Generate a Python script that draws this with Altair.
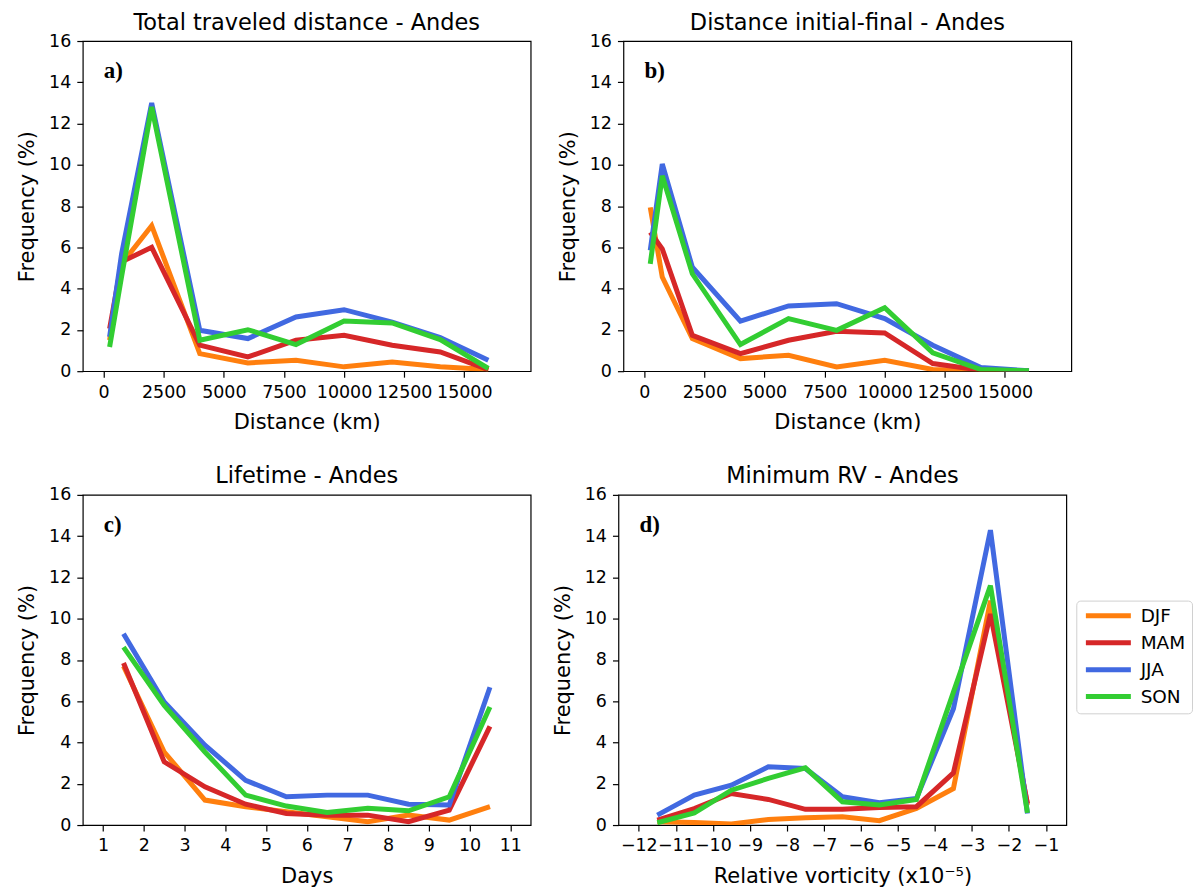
import altair as alt
import pandas as pd

seasons = ["DJF", "MAM", "JJA", "SON"]
colors = ["#ff7f0e", "#d62728", "#4169e1", "#32cd32"]

# Panel a: total traveled distance
dist_x = [250, 750, 2000, 4000, 6000, 8000, 10000, 12000, 14000, 16000]
a_DJF = [1.5, 5.2, 7.05, 0.85, 0.40, 0.53, 0.21, 0.45, 0.21, 0.08]
a_MAM = [2.06, 5.3, 6.0, 1.26, 0.69, 1.5, 1.74, 1.26, 0.93, 0.08]
a_JJA = [1.66, 5.7, 13.0, 1.98, 1.58, 2.63, 2.98, 2.38, 1.63, 0.53]
a_SON = [1.17, 4.6, 12.8, 1.5, 2.01, 1.29, 2.43, 2.34, 1.53, 0.13]

# Panel b: distance initial-final
b_DJF = [7.94, 4.56, 1.58, 0.61, 0.77, 0.21, 0.53, 0.08, 0.03, 0.02]
b_MAM = [6.73, 5.93, 1.74, 0.85, 1.5, 1.93, 1.85, 0.37, 0.05, 0.02]
b_JJA = [5.85, 10.04, 5.04, 2.43, 3.16, 3.27, 2.55, 1.26, 0.18, 0.02]
b_SON = [5.2, 9.47, 4.72, 1.29, 2.55, 1.98, 3.08, 0.89, 0.08, 0.02]

# Panel c: lifetime
days_x = [1.5, 2.5, 3.5, 4.5, 5.5, 6.5, 7.5, 8.5, 9.5, 10.5]
c_DJF = [7.7, 3.54, 1.21, 0.89, 0.64, 0.40, 0.16, 0.48, 0.24, 0.89]
c_MAM = [7.85, 3.06, 1.85, 1.01, 0.56, 0.48, 0.48, 0.16, 0.72, 4.78]
c_JJA = [9.27, 5.96, 3.87, 2.17, 1.37, 1.45, 1.45, 1.01, 0.97, 6.68]
c_SON = [8.62, 5.8, 3.54, 1.45, 0.92, 0.61, 0.81, 0.69, 1.37, 5.72]

# Panel d: minimum relative vorticity
rv_x = [-11.5, -10.5, -9.5, -8.5, -7.5, -6.5, -5.5, -4.5, -3.5, -2.5, -1.5]
d_DJF = [0.16, 0.12, 0.05, 0.27, 0.35, 0.40, 0.21, 0.81, 1.77, 10.87, 0.97]
d_MAM = [0.24, 0.8, 1.53, 1.24, 0.76, 0.76, 0.85, 0.89, 2.53, 10.23, 1.05]
d_JJA = [0.48, 1.45, 1.93, 2.82, 2.74, 1.37, 1.08, 1.29, 5.64, 14.29, 0.56]
d_SON = [0.11, 0.59, 1.69, 2.26, 2.77, 1.13, 0.97, 1.24, 6.44, 11.6, 0.59]

dist_ticks = [0, 2500, 5000, 7500, 10000, 12500, 15000]
days_ticks = list(range(1, 12))
rv_ticks = list(range(-12, 0))
freq_ticks = list(range(0, 17, 2))

W, H = 449, 331
FONT = "DejaVu Sans"


def frame(xs, series):
    rows = []
    for s, ys in zip(seasons, series):
        for x, y in zip(xs, ys):
            rows.append({"x": x, "y": y, "season": s})
    return pd.DataFrame(rows)


def panel(xs, series, title, xtitle, xdomain, xticks, letter, show_legend=False):
    df = frame(xs, series)
    layers = []
    for i, s in enumerate(seasons):
        if show_legend:
            leg = alt.Legend(
                title=None, orient="none", legendX=459, legendY=106,
                symbolType="M-1,0H7", symbolStrokeWidth=5, symbolSize=127,
                labelFontSize=18.5, labelFont=FONT, labelColor="black",
                rowPadding=6, labelOffset=40, padding=6,
                strokeColor="#d0d0d0", cornerRadius=4, fillColor="white",
            )
        else:
            leg = None
        layers.append(
            alt.Chart(df[df.season == s]).mark_line(strokeWidth=5, clip=True).encode(
                x=alt.X("x:Q", title=xtitle,
                        scale=alt.Scale(domain=xdomain, nice=False, zero=False),
                        axis=alt.Axis(values=xticks, format="d")),
                y=alt.Y("y:Q", title="Frequency (%)",
                        scale=alt.Scale(domain=[0, 16], nice=False),
                        axis=alt.Axis(values=freq_ticks, format="d")),
                color=alt.Color("season:N",
                                scale=alt.Scale(domain=seasons, range=colors),
                                legend=leg),
            )
        )
    lab = alt.Chart(pd.DataFrame({"t": [letter]})).mark_text(
        font="Liberation Serif", fontWeight="bold", fontSize=23,
        align="left", baseline="alphabetic", color="black",
    ).encode(text="t:N", x=alt.value(21), y=alt.value(37))
    return alt.layer(*layers, lab).properties(
        width=W, height=H, title=title
    )


pa = panel(dist_x, [a_DJF, a_MAM, a_JJA, a_SON], "Total traveled distance - Andes",
           "Distance (km)", [-865, 17760], dist_ticks, "a)")
pb = panel(dist_x, [b_DJF, b_MAM, b_JJA, b_SON], "Distance initial-final - Andes",
           "Distance (km)", [-865, 17760], dist_ticks, "b)")
pc = panel(days_x, [c_DJF, c_MAM, c_JJA, c_SON], "Lifetime - Andes",
           "Days", [0.5, 11.5], days_ticks, "c)")
pd_ = panel(rv_x, [d_DJF, d_MAM, d_JJA, d_SON], "Minimum RV - Andes",
            "Relative vorticity (x10⁻⁵)", [-12.55, -0.45], rv_ticks, "d)", show_legend=True)

top = alt.hconcat(pa, pb, spacing=25).resolve_scale(color="independent")
bottom = alt.hconcat(pc, pd_, spacing=20).resolve_scale(color="independent")

chart = alt.vconcat(top, bottom, spacing=30).resolve_scale(color="independent").properties(
    padding={"left": 16, "top": 9, "right": 0, "bottom": 0},
    background="white",
).configure_view(
    stroke="black", strokeWidth=1.2
).configure_axis(
    labelFont=FONT, titleFont=FONT, labelFontSize=17.5, titleFontSize=21,
    titleFontWeight="normal", labelColor="black", titleColor="black",
    tickColor="black", tickSize=6, tickWidth=1.2, domain=False, grid=False,
    labelPadding=6, titlePadding=11,
).configure_title(
    font=FONT, fontSize=22.5, fontWeight="normal", color="black", offset=-2
)

chart.save("out.html", embed_options={"renderer": "svg", "actions": False})
